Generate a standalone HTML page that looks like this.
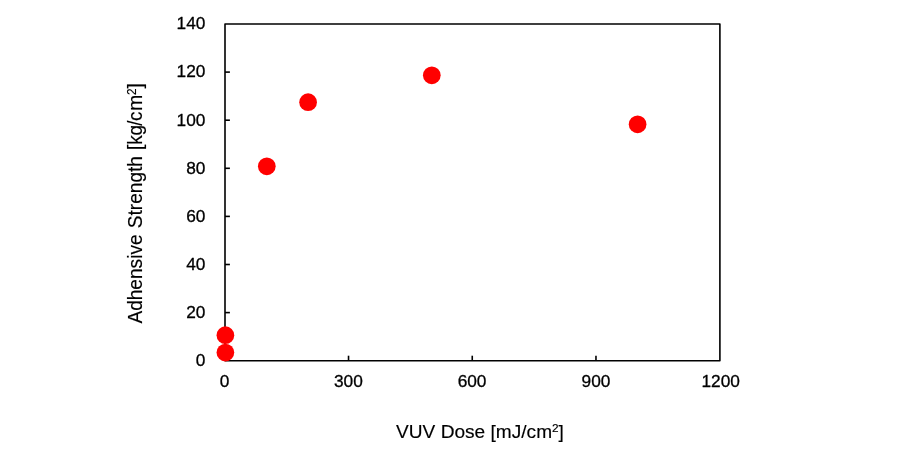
<!DOCTYPE html>
<html>
<head>
<meta charset="utf-8">
<title>Adhensive Strength vs VUV Dose</title>
<style>
html,body{margin:0;padding:0;background:#fff;}
body{width:900px;height:453px;overflow:hidden;}
svg{display:block;}
text{font-family:"Liberation Sans",Arial,sans-serif;font-size:17.3px;fill:#000;stroke:#000;stroke-width:0.3px;stroke-linejoin:round;}
.ttl,.ttl text{font-size:19.1px;stroke-width:0.15px;}
.sup{font-size:11.8px;}
</style>
</head>
<body>
<svg width="900" height="453" viewBox="0 0 900 453">
<rect x="0" y="0" width="900" height="453" fill="#fff"/>
<rect x="225.0" y="24.0" width="494.90" height="336.70" fill="none" stroke="#000" stroke-width="1.6" stroke-linejoin="round"/>
<g stroke="#000" stroke-width="1.6">
<line x1="225.0" y1="312.60" x2="229.9" y2="312.60"/>
<line x1="225.0" y1="264.50" x2="229.9" y2="264.50"/>
<line x1="225.0" y1="216.40" x2="229.9" y2="216.40"/>
<line x1="225.0" y1="168.30" x2="229.9" y2="168.30"/>
<line x1="225.0" y1="120.20" x2="229.9" y2="120.20"/>
<line x1="225.0" y1="72.10" x2="229.9" y2="72.10"/>
<line x1="348.53" y1="360.7" x2="348.53" y2="355.7"/>
<line x1="472.25" y1="360.7" x2="472.25" y2="355.7"/>
<line x1="595.97" y1="360.7" x2="595.97" y2="355.7"/>
</g>
<g text-anchor="end">
<text x="205.4" y="29">140</text>
<text x="205.4" y="77">120</text>
<text x="205.4" y="126">100</text>
<text x="205.4" y="174">80</text>
<text x="205.4" y="222">60</text>
<text x="205.4" y="270">40</text>
<text x="205.4" y="318">20</text>
<text x="205.4" y="366">0</text>
</g>
<g text-anchor="middle">
<text x="224.60" y="387">0</text>
<text x="348.33" y="387">300</text>
<text x="472.05" y="387">600</text>
<text x="595.97" y="387">900</text>
<text x="720.70" y="387">1200</text>
</g>
<text class="ttl" x="480" y="438" text-anchor="middle">VUV Dose [mJ/cm<tspan class="sup" dy="-6.5">2</tspan><tspan dy="6.5">]</tspan></text>
<text class="ttl" transform="translate(142.3,0) rotate(-90) scale(1,1.02)"><tspan x="-323.6" y="0">Adhensive </tspan><tspan x="-228.2" y="0">Strength </tspan><tspan x="-150" y="0" dx="0 -0.1 -0.3 -0.9 -0.6 0.8">[kg/cm</tspan><tspan class="sup" dx="-0.2" dy="-6.5">2</tspan><tspan dx="-0.1" dy="6.5">]</tspan></text>
<g fill="#ff0000">
<circle cx="225.4" cy="352.6" r="8.85"/>
<circle cx="225.4" cy="335.2" r="8.85"/>
<circle cx="266.8" cy="166.3" r="8.85"/>
<circle cx="308.1" cy="102.15" r="8.85"/>
<circle cx="431.8" cy="75.35" r="8.85"/>
<circle cx="637.6" cy="124.3" r="8.85"/>
</g>
</svg>
</body>
</html>
